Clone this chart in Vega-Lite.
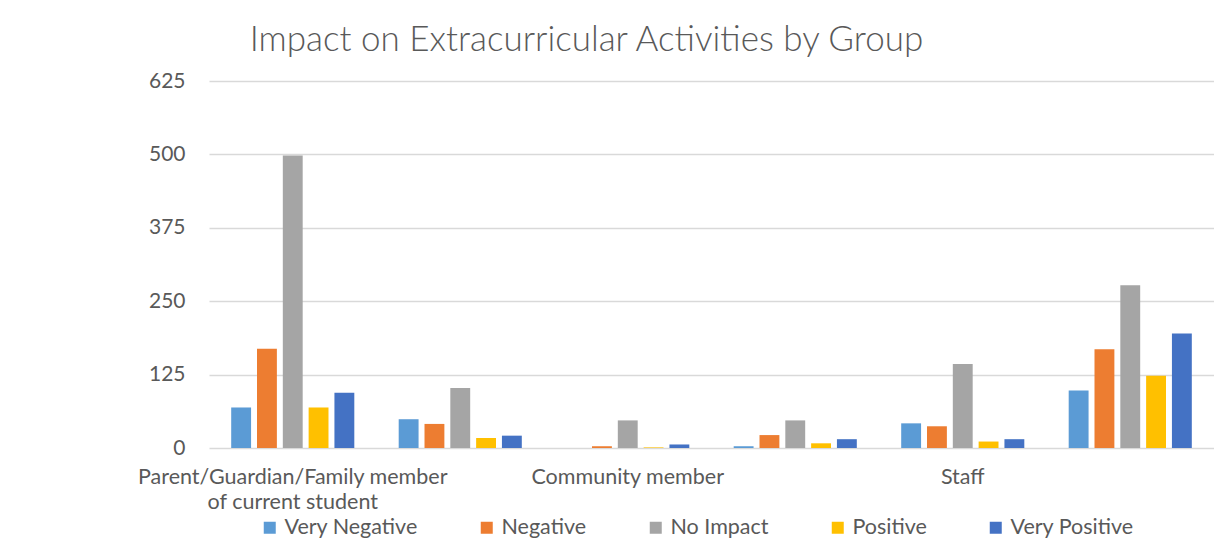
{
  "$schema": "https://vega.github.io/schema/vega-lite/v6.json",
  "width": 1005,
  "height": 367,
  "autosize": {"type": "none"},
  "padding": {"left": 209, "top": 81, "right": 0, "bottom": 90},
  "background": "white",
  "title": {
    "text": "Impact on Extracurricular Activities by Group",
    "font": "Lato",
    "fontSize": 35,
    "fontWeight": 300,
    "color": "#595959",
    "anchor": "middle",
    "dx": -125,
    "offset": 12
  },
  "config": {
    "view": {"stroke": null},
    "font": "Lato"
  },
  "data": {
    "values": [
      {"group": "Parent/Guardian/Family member of current student", "rating": "Very Negative", "value": 69},
      {"group": "Parent/Guardian/Family member of current student", "rating": "Negative", "value": 169},
      {"group": "Parent/Guardian/Family member of current student", "rating": "No Impact", "value": 498},
      {"group": "Parent/Guardian/Family member of current student", "rating": "Positive", "value": 69},
      {"group": "Parent/Guardian/Family member of current student", "rating": "Very Positive", "value": 94},
      {"group": "Alumni", "rating": "Very Negative", "value": 49},
      {"group": "Alumni", "rating": "Negative", "value": 41},
      {"group": "Alumni", "rating": "No Impact", "value": 102},
      {"group": "Alumni", "rating": "Positive", "value": 17},
      {"group": "Alumni", "rating": "Very Positive", "value": 21},
      {"group": "Community member", "rating": "Very Negative", "value": 0},
      {"group": "Community member", "rating": "Negative", "value": 3},
      {"group": "Community member", "rating": "No Impact", "value": 47},
      {"group": "Community member", "rating": "Positive", "value": 1},
      {"group": "Community member", "rating": "Very Positive", "value": 6},
      {"group": "Other", "rating": "Very Negative", "value": 3},
      {"group": "Other", "rating": "Negative", "value": 22},
      {"group": "Other", "rating": "No Impact", "value": 47},
      {"group": "Other", "rating": "Positive", "value": 8},
      {"group": "Other", "rating": "Very Positive", "value": 15},
      {"group": "Staff", "rating": "Very Negative", "value": 42},
      {"group": "Staff", "rating": "Negative", "value": 37},
      {"group": "Staff", "rating": "No Impact", "value": 143},
      {"group": "Staff", "rating": "Positive", "value": 11},
      {"group": "Staff", "rating": "Very Positive", "value": 15},
      {"group": "Student", "rating": "Very Negative", "value": 98},
      {"group": "Student", "rating": "Negative", "value": 168},
      {"group": "Student", "rating": "No Impact", "value": 277},
      {"group": "Student", "rating": "Positive", "value": 123},
      {"group": "Student", "rating": "Very Positive", "value": 195}
    ]
  },
  "mark": {"type": "bar"},
  "encoding": {
    "x": {
      "field": "group",
      "type": "nominal",
      "sort": null,
      "scale": {"paddingInner": 0.265, "paddingOuter": 0.1325},
      "axis": {
        "title": null,
        "domain": false,
        "ticks": false,
        "labelAngle": 0,
        "labelFont": "Lato",
        "labelFontSize": 21.5,
        "labelColor": "#595959",
        "labelPadding": 18,
        "labelLineHeight": 25,
        "labelLimit": 500,
        "labelOverlap": false,
        "labelExpr": "datum.value == 'Parent/Guardian/Family member of current student' ? ['Parent/Guardian/Family member', 'of current student'] : ((datum.value == 'Community member' || datum.value == 'Staff') ? datum.value : '')"
      }
    },
    "xOffset": {
      "field": "rating",
      "type": "nominal",
      "sort": ["Very Negative", "Negative", "No Impact", "Positive", "Very Positive"],
      "scale": {"paddingInner": 0.23, "paddingOuter": 0}
    },
    "y": {
      "field": "value",
      "type": "quantitative",
      "scale": {"domain": [0, 625], "nice": false},
      "axis": {
        "title": null,
        "values": [0, 125, 250, 375, 500, 625],
        "domain": false,
        "ticks": false,
        "labelFont": "Lato",
        "labelFontSize": 21,
        "labelColor": "#595959",
        "labelPadding": 24,
        "gridColor": "#d9d9d9",
        "gridWidth": 1.5
      }
    },
    "color": {
      "field": "rating",
      "type": "nominal",
      "scale": {
        "domain": ["Very Negative", "Negative", "No Impact", "Positive", "Very Positive"],
        "range": ["#5B9BD5", "#ED7D31", "#A5A5A5", "#FFC000", "#4472C4"]
      },
      "legend": {
        "title": null,
        "orient": "none",
        "direction": "horizontal",
        "legendX": 50,
        "legendY": 436,
        "padding": 0,
        "symbolType": "square",
        "symbolSize": 144,
        "symbolStrokeWidth": 0,
        "labelFont": "Lato",
        "labelFontSize": 21.5,
        "labelColor": "#595959",
        "labelOffset": 4,
        "labelLimit": 300,
        "gridAlign": "none",
        "columnPadding": 58
      }
    }
  }
}
